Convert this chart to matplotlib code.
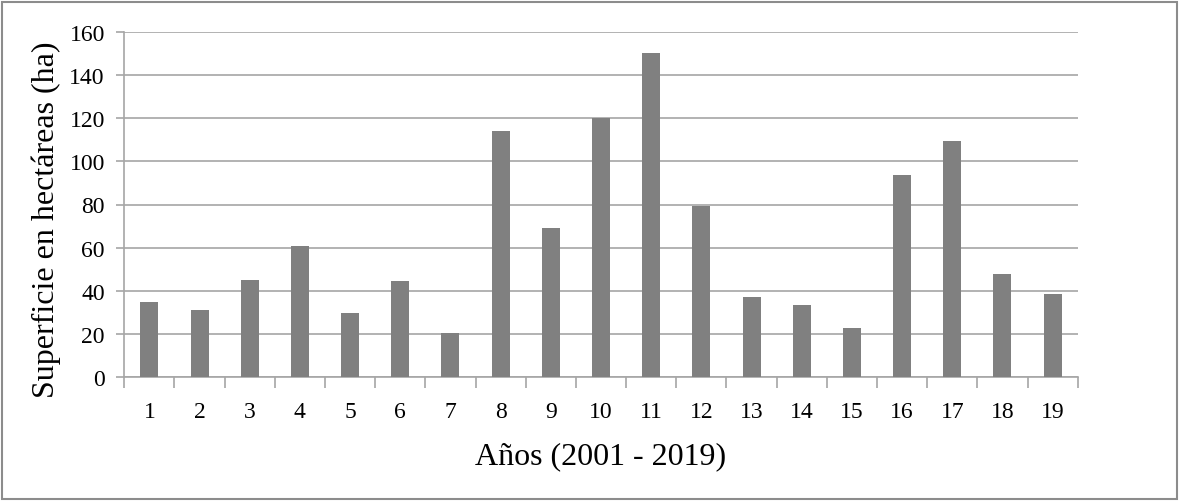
import numpy as np
import matplotlib.pyplot as plt
from matplotlib.patches import Rectangle

# Superficie por año (2001 - 2019)
years = list(range(1, 20))
area_ha = [34.7, 31.3, 44.9, 60.8, 29.8, 44.7, 20.5, 114.0, 69.3, 120.0,
           150.0, 79.4, 37.0, 33.3, 22.8, 93.8, 109.2, 47.8, 38.6]
y_ticks = [0, 20, 40, 60, 80, 100, 120, 140, 160]

grid_col = "#a6a6a6"
bar_col = "#808080"

plt.rcParams["font.family"] = ["Liberation Serif", "DejaVu Serif"]

fig = plt.figure(figsize=(11.81, 5.02), dpi=100)
ax = fig.add_axes([124.3 / 1181, 1 - 378.3 / 502, (1077.7 - 124.3) / 1181, (378.3 - 32.7) / 502])

x = np.arange(len(years))
ax.bar(x, area_ha, width=0.36, color=bar_col, zorder=3)

ax.set_xlim(-0.5, len(years) - 0.5)
ax.set_ylim(0, 160)
ax.set_yticks(y_ticks)
ax.yaxis.grid(True, color=grid_col, linewidth=1.2, zorder=0)

# ticks on category boundaries, labels centred
ax.set_xticks(np.arange(-0.5, len(years), 1.0))
ax.set_xticklabels([])
ax.set_xticks(x, minor=True)
ax.set_xticklabels([str(v) for v in years], minor=True, fontsize=17)
ax.tick_params(axis="x", which="minor", length=0, pad=17)
ax.tick_params(axis="x", which="major", length=8, width=1.2, color=grid_col, direction="out")
ax.tick_params(axis="y", length=6, width=1.2, color=grid_col, labelsize=17, pad=8)

for side in ["top", "right"]:
    ax.spines[side].set_visible(False)
for side in ["left", "bottom"]:
    ax.spines[side].set_color(grid_col)
    ax.spines[side].set_linewidth(1.2)

ax.set_xlabel("Años (2001 - 2019)", fontsize=23, labelpad=14)
ax.set_ylabel("Superficie en hectáreas (ha)", fontsize=23)
ax.yaxis.set_label_coords(-0.066, 0.46)

# outer border of the chart area
fig.patches.append(Rectangle((0.002, 0.004), 0.995, 0.99, transform=fig.transFigure,
                             fill=False, edgecolor="#8c8c8c", linewidth=1.5))

fig.savefig("out.png", dpi=100)
